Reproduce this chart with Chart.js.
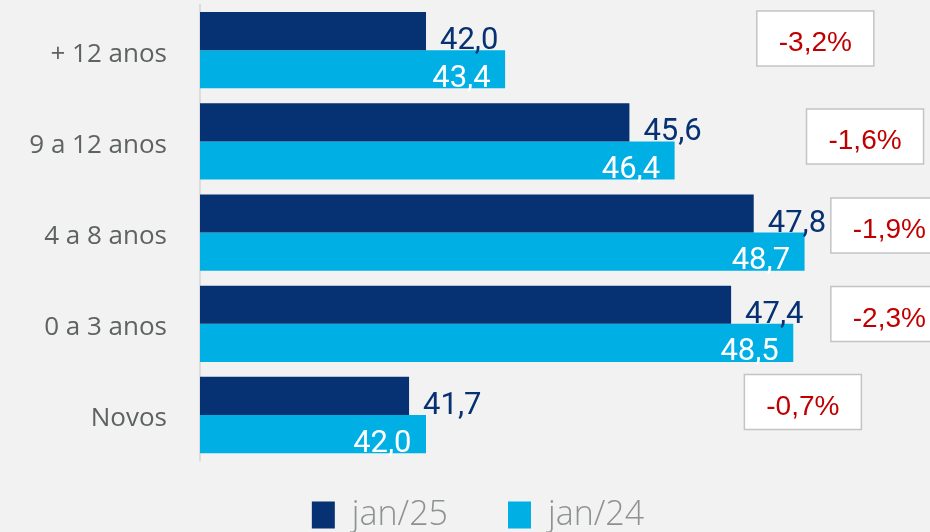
<!DOCTYPE html>
<html><head><meta charset="utf-8">
<script src="https://cdn.jsdelivr.net/npm/chart.js@4.4.1/dist/chart.umd.min.js"></script>
<style>html,body{margin:0;padding:0;background:#f2f2f2;} canvas{display:block;}</style>
</head><body>
<canvas id="c" width="930" height="532"></canvas>
<script>
const categories = ['+ 12 anos', '9 a 12 anos', '4 a 8 anos', '0 a 3 anos', 'Novos'];
const seriesNames = ['jan/25', 'jan/24'];
const jan25 = [42.0, 45.6, 47.8, 47.4, 41.7];
const jan24 = [43.4, 46.4, 48.7, 48.5, 42.0];
const variation = [-3.2, -1.6, -1.9, -2.3, -0.7];

const fmt = v => v.toFixed(1).replace('.', ',');
const pct = v => (v < 0 ? '-' : '') + Math.abs(v).toFixed(1).replace('.', ',') + '%';

const bgPlugin = { id: 'bg', beforeDraw(chart) {
  const c = chart.ctx; c.save(); c.fillStyle = '#f2f2f2'; c.fillRect(0, 0, chart.width, chart.height); c.restore();
}};

const legendShift = { id: 'legendShift', afterLayout(chart, args, opts) {
  const lg = chart.legend; if (!lg) return;
  lg.left += opts.dx; lg.right += opts.dx; lg.top += opts.dy;
}};

const labelPlugin = { id: 'valueLabels', afterDatasetsDraw(chart) {
  const ctx = chart.ctx; ctx.save();
  ctx.font = '400 31px Roboto'; ctx.textBaseline = 'alphabetic';
  chart.data.datasets.forEach((ds, di) => {
    const meta = chart.getDatasetMeta(di);
    meta.data.forEach((bar, i) => {
      const bottom = bar.y + bar.height / 2;
      const txt = fmt(ds.data[i]);
      if (di === 0) { ctx.fillStyle = '#063172'; ctx.textAlign = 'left'; ctx.fillText(txt, bar.x + 14, bottom - 1); }
      else { ctx.fillStyle = '#ffffff'; ctx.textAlign = 'right'; ctx.fillText(txt, bar.x - 14.5, bottom - 1.5); }
    });
  });
  ctx.restore();
}};

const boxPlugin = { id: 'varBoxes', afterDatasetsDraw(chart, args, opts) {
  const ctx = chart.ctx, xs = chart.scales.x, ys = chart.scales.y;
  ctx.save();
  variation.forEach((v, i) => {
    const cx = xs.getPixelForValue(opts.centers[i]);
    const cy = ys.getPixelForValue(i) + opts.dy[i];
    const w = opts.width, h = opts.height;
    ctx.fillStyle = '#ffffff'; ctx.fillRect(cx - w / 2, cy - h / 2, w, h);
    ctx.strokeStyle = '#c4c4c4'; ctx.lineWidth = 1.5; ctx.strokeRect(cx - w / 2, cy - h / 2, w, h);
    ctx.fillStyle = '#c00000'; ctx.font = '400 28px "Liberation Sans"'; ctx.textAlign = 'center'; ctx.textBaseline = 'alphabetic';
    ctx.fillText(pct(v), cx, cy + 12.5);
  });
  ctx.restore();
}};

new Chart(document.getElementById('c'), {
  type: 'bar',
  data: {
    labels: categories,
    datasets: [
      { label: seriesNames[0], data: jan25, backgroundColor: '#063172', borderWidth: 0 },
      { label: seriesNames[1], data: jan24, backgroundColor: '#00afe3', borderWidth: 0 }
    ]
  },
  options: {
    indexAxis: 'y', responsive: false, animation: false, devicePixelRatio: 1,
    categoryPercentage: 0.837, barPercentage: 1,
    layout: { padding: { left: 0, right: 0, top: 4.6, bottom: 0 } },
    scales: {
      x: { display: false, min: 38, max: 50.92 },
      y: {
        afterFit(s) { s.width = 200; s.paddingTop = 0; s.paddingBottom = 0; },
        grid: { display: false, drawTicks: false },
        border: { display: true, color: '#dcdcdc', width: 2 },
        ticks: { padding: 33, labelOffset: 4, color: '#5e6262', font: { family: 'Open Sans', size: 26 } }
      }
    },
    plugins: {
      legend: {
        position: 'bottom', maxHeight: 71.4,
        labels: { boxWidth: 23, boxHeight: 27, padding: 60, color: '#8f9292', font: { family: 'Open Sans', size: 34, weight: 300 } }
      },
      legendShift: { dx: 13, dy: -22.6 },
      tooltip: { enabled: false },
      varBoxes: { centers: [48.89, 49.77, 50.2, 50.2, 48.67], dy: [-11.7, -4.9, -7.1, -9.8, -13], width: 117, height: 55 }
    }
  },
  plugins: [bgPlugin, legendShift, labelPlugin, boxPlugin]
});
</script>
</body></html>
